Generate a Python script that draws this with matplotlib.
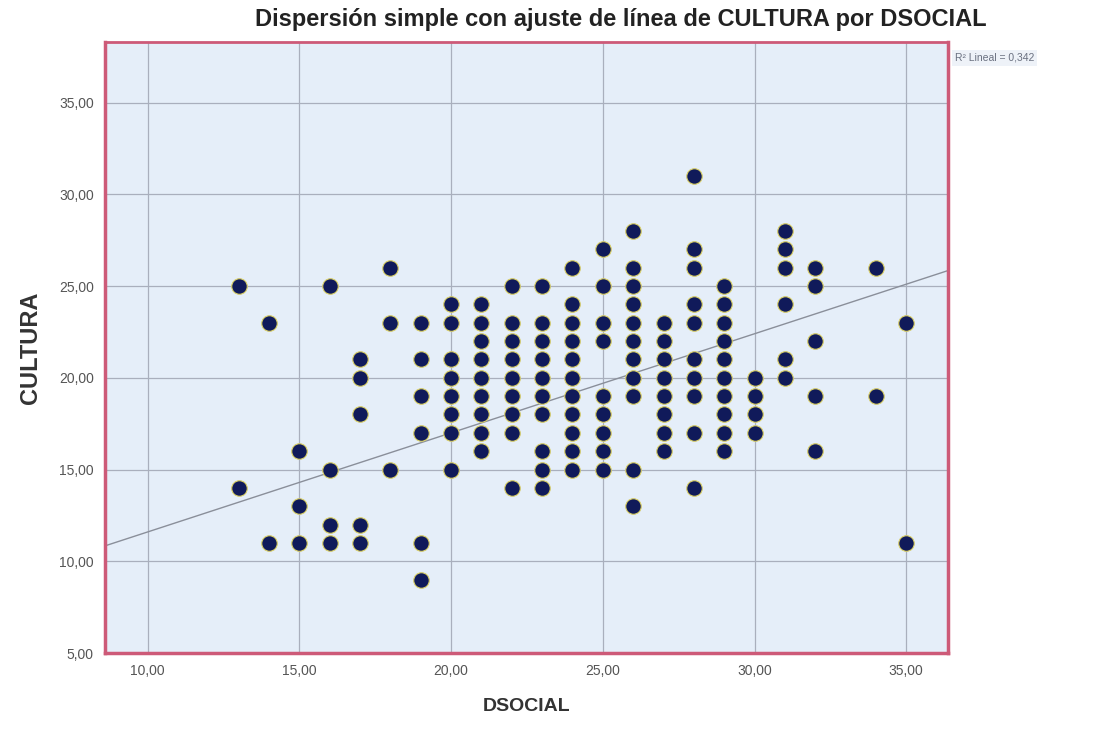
import numpy as np
import matplotlib
matplotlib.use("Agg")
import matplotlib.pyplot as plt
from matplotlib.ticker import FuncFormatter

plt.rcParams['font.family'] = ['Liberation Sans', 'DejaVu Sans']

# valores de CULTURA para cada valor de DSOCIAL
cultura_por_dsocial = {
    13: [25, 14],
    14: [23, 11],
    15: [16, 13, 11],
    16: [25, 15, 12, 11],
    17: [21, 20, 18, 12, 11],
    18: [26, 23, 15],
    19: [23, 21, 19, 17, 11, 9],
    20: [24, 23, 21, 20, 19, 18, 17, 15],
    21: [24, 23, 22, 21, 20, 19, 18, 17, 16],
    22: [25, 23, 22, 21, 20, 19, 18, 17, 14],
    23: [25, 23, 22, 21, 20, 19, 18, 16, 15, 14],
    24: [26, 24, 23, 22, 21, 20, 19, 18, 17, 16, 15],
    25: [27, 25, 23, 22, 19, 18, 17, 16, 15],
    26: [28, 26, 25, 24, 23, 22, 21, 20, 19, 15, 13],
    27: [23, 22, 21, 20, 19, 18, 17, 16],
    28: [31, 27, 26, 24, 23, 21, 20, 19, 17, 14],
    29: [25, 24, 23, 22, 21, 20, 19, 18, 17, 16],
    30: [20, 19, 18, 17],
    31: [28, 27, 26, 24, 21, 20],
    32: [26, 25, 22, 19, 16],
    34: [26, 19],
    35: [23, 11],
}
dsocial = [x for x, ys in cultura_por_dsocial.items() for _ in ys]
cultura = [y for ys in cultura_por_dsocial.values() for y in ys]

# recta de ajuste
intercepto = 6.2
pendiente = 0.54
r2_texto = "R² Lineal = 0,342"

xticks = [10, 15, 20, 25, 30, 35]
yticks = [5, 10, 15, 20, 25, 30, 35]

fig = plt.figure(figsize=(11.05, 7.31), dpi=100)
ax = fig.add_axes([0.095, 0.1067, 0.763, 0.8358])
ax.set_facecolor('#e5eef9')
ax.set_xlim(8.59, 36.38)
ax.set_ylim(5, 38.3)

ax.grid(True, color='#a9afbd', linewidth=0.9)
ax.set_axisbelow(True)

xl = np.array(ax.get_xlim())
ax.plot(xl, intercepto + pendiente * xl, color='#8a8f9a', linewidth=1.0, zorder=2)

ax.scatter(dsocial, cultura, s=125, color='#101a5a', edgecolors='#d9cf66',
           linewidths=0.8, zorder=3)

for s in ax.spines.values():
    s.set_color('#cd5a78')
    s.set_linewidth(2.5)
ax.spines['top'].set_linewidth(2.0)

ax.set_xticks(xticks)
ax.set_yticks(yticks)
fmt = FuncFormatter(lambda v, p: f"{v:.2f}".replace('.', ','))
ax.xaxis.set_major_formatter(fmt)
ax.yaxis.set_major_formatter(fmt)
ax.tick_params(length=0, labelsize=10, colors='#555555', pad=8)

ax.set_xlabel("DSOCIAL", fontsize=14, fontweight='bold', color='#333333', labelpad=14)
ax.set_ylabel("CULTURA", fontsize=17, fontweight='bold', color='#333333', labelpad=12)

fig.text(0.562, 0.974, "Dispersión simple con ajuste de línea de CULTURA por DSOCIAL",
         ha='center', va='center', fontsize=17, fontweight='bold', color='#222222')
fig.text(0.864, 0.921, r2_texto, ha='left', va='center', fontsize=7.5, color='#6a7080',
         bbox=dict(facecolor='#eef2f8', edgecolor='none', pad=2))

fig.savefig("out.png", dpi=100)
